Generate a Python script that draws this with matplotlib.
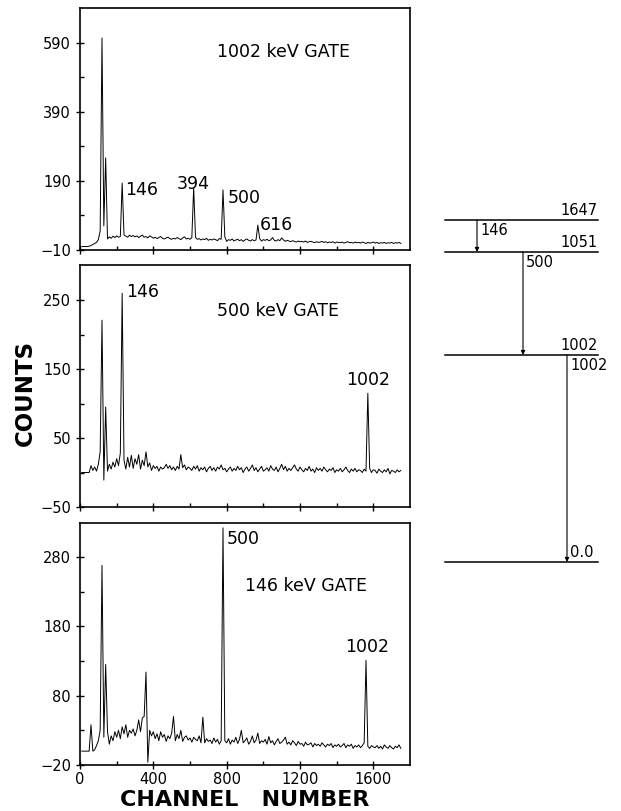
# -*- coding: utf-8 -*-

import numpy as np
import matplotlib.pyplot as plt

# channel grid of the spectra (every 10th channel)
channels = np.arange(10, 1760, 10)

# 1002 keV gate
counts_1002 = [
    0, 0, 0, 0, 1, 3, 6, 9, 12, 20,
    45, 604, 60, 257, 22, 28, 24, 30, 26, 31,
    27, 29, 184, 34, 30, 27, 33, 29, 32, 28,
    31, 26, 30, 33, 27, 29, 25, 31, 28, 24,
    27, 23, 26, 29, 24, 22, 25, 27, 23, 21,
    24, 22, 26, 23, 20, 25, 28, 22, 24, 21,
    26, 170, 27, 21, 23, 19, 22, 20, 24, 18,
    21, 19, 22, 20, 17, 23, 21, 164, 28, 15,
    20, 18, 22, 16, 19, 21, 17, 20, 15, 19,
    22, 18, 16, 20, 17, 19, 62, 23, 16, 20,
    18, 21, 17, 19, 26, 18, 16, 20, 17, 25,
    19, 15, 18, 16, 14, 17, 15, 13, 16, 14,
    15, 13, 16, 12, 14, 15, 13, 11, 14, 12,
    13, 15, 12, 14, 11, 13, 12, 14, 10, 13,
    12, 11, 13, 10, 12, 14, 11, 12, 10, 13,
    11, 12, 10, 13, 11, 9, 12, 10, 11, 13,
    10, 12, 9, 11, 10, 12, 9, 11, 10, 12,
    9, 11, 10, 12, 9,
]

# 500 keV gate
counts_500 = [
    0, 0, 0, 0, 0, 10, 3, 8, 2, 12,
    30, 221, -11, 95, 2, 12, 5, 15, 8, 20,
    10, 28, 260, 18, 5, 22, 8, 25, 6, 20,
    12, 26, 5, 18, 10, 30, 8, 14, 3, 10,
    6, 9, 2, 8, 5, 7, 12, 6, 10, 4,
    8, 3, 9, 5, 26, 7, 11, 4, 8, 6,
    3, 9, 5, 10, 2, 7, 4, 8, 1, 6,
    9, 3, 7, 2, 8, 5, 11, 4, 6, 1,
    5, 8, 2, 6, 3, 9, 4, 7, 0, 5,
    8, 2, 6, 11, 3, 7, 1, 5, 9, 2,
    4, 7, 2, 10, 5, 3, 8, 1, 6, 12,
    4, 9, 2, 6, 3, 7, 11, 5, 2, 8,
    4, 1, 6, 3, 9, 2, 5, 0, 7, 3,
    6, 2, 8, 4, 1, 5, 3, 7, 0, 4,
    2, 6, 1, 4, 8, 3, 0, 5, 2, 6,
    1, 4, 3, 0, 5, 2, 115, 6, 0, 4,
    3, -1, 5, 2, 0, 4, 1, 6, -2, 3,
    2, 0, 4, 1, 3,
]

# 146 keV gate
counts_146 = [
    0, 0, 0, 0, 0, 38, 0, 2, 8, 15,
    30, 268, 20, 125, 28, 10, 22, 15, 28, 20,
    30, 18, 35, 25, 38, 20, 30, 26, 32, 22,
    30, 45, 28, 48, 50, 114, -16, 30, 22, 28,
    18, 25, 15, 28, 20, 24, 14, 22, 18, 26,
    50, 15, 24, 18, 30, 14, 20, 22, 16, 19,
    13, 20, 17, 15, 22, 12, 49, 12, 18, 14,
    16, 11, 19, 13, 17, 10, 15, 322, 15, 12,
    18, 10, 16, 13, 20, 11, 17, 30, 12, 15,
    19, 10, 14, 22, 12, 16, 26, 11, 15, 13,
    17, 10, 21, 12, 15, 9, 14, 18, 11, 13,
    16, 20, 10, 13, 9, 15, 12, 8, 14, 10,
    11, 7, 13, 9, 10, 12, 6, 11, 8, 10,
    7, 12, 9, 6, 10, 8, 11, 5, 9, 7,
    10, 6, 8, 11, 5, 9, 7, 10, 4, 8,
    6, 9, 5, 8, 12, 131, 7, 4, 8, 6,
    5, 8, 4, 7, 3, 9, 6, 4, 8, 5,
    3, 7, 5, 9, 4,
]

gate_labels = ['1002 keV GATE', '500 keV GATE', '146 keV GATE']
y_major = [[-10, 190, 390, 590], [-50, 50, 150, 250], [-20, 80, 180, 280]]
y_limits = [(-10, 691), (-50, 301), (-20, 329)]
gate_text_pos = [(745, 564), (745, 235), (900, 238)]

# peak labels: (text, channel, counts, alignment)
peak_labels = [
    [('146', 245, 164, 'left'), ('394', 617, 182, 'center'),
     ('500', 805, 141, 'left'), ('616', 980, 62, 'left')],
    [('146', 250, 262, 'left'), ('1002', 1570, 134, 'center')],
    [('500', 800, 306, 'left'), ('1002', 1565, 150, 'center')],
]

# level scheme
level_energies = ['1647', '1051', '1002', '0.0']
level_draw_y = [360, 328, 225, 18]
transitions = ['146', '500', '1002']
transition_x = [37, 83, 127]


def draw_spectrum(ax, counts, idx):
    ax.plot(channels, counts, color='black', lw=0.7)
    ax.set_xlim(0, 1800)
    ax.set_ylim(*y_limits[idx])
    ax.set_xticks(np.arange(0, 1800, 400))
    ax.set_xticks(np.arange(200, 1800, 400), minor=True)
    ax.set_yticks(y_major[idx])
    step = y_major[idx][1] - y_major[idx][0]
    ax.set_yticks(np.array(y_major[idx][:-1]) + step / 2, minor=True)
    ax.tick_params(which='major', direction='inout', length=6, width=1,
                   labelsize=10.5)
    ax.tick_params(which='minor', direction='in', length=3, width=1)
    ax.tick_params(axis='x', pad=2)
    for s in ax.spines.values():
        s.set_linewidth(1.2)
    if idx < 2:
        ax.set_xticklabels([])
    gx, gy = gate_text_pos[idx]
    ax.text(gx, gy, gate_labels[idx], fontsize=12.5, va='center')
    for txt, x, y, ha in peak_labels[idx]:
        ax.text(x, y, txt, fontsize=12.5, ha=ha, va='center')


def draw_levels(ax):
    ax.set_xlim(0, 180)
    ax.set_ylim(0, 380)
    ax.axis('off')
    for e, y in zip(level_energies, level_draw_y):
        ax.plot([5, 158], [y, y], color='black', lw=1.1)
        if e == '0.0':
            ax.text(transition_x[2] + 3, y + 2, e, fontsize=10.5, va='bottom')
        else:
            ax.text(158, y + 2, e, fontsize=10.5, ha='right', va='bottom')
    starts = [level_draw_y[0], level_draw_y[1], level_draw_y[2]]
    ends = [level_draw_y[1], level_draw_y[2], level_draw_y[3]]
    for t, x, y0, y1 in zip(transitions, transition_x, starts, ends):
        ax.annotate('', xy=(x, y1), xytext=(x, y0),
                    arrowprops=dict(arrowstyle='-|>', lw=0.8, color='black',
                                    mutation_scale=6, shrinkA=0, shrinkB=0))
        ax.text(x + 3, y0 - 3, t, fontsize=10.5, va='top')


def main():
    fig = plt.figure(figsize=(6.21, 8.11), dpi=100)
    left, width, height = 80 / 621, 330 / 621, 242 / 811
    bottoms = [1 - 250 / 811, 1 - 507 / 811, 1 - 765 / 811]
    data = [counts_1002, counts_500, counts_146]
    for i in range(3):
        ax = fig.add_axes([left, bottoms[i], width, height])
        draw_spectrum(ax, data[i], i)

    fig.text(25 / 621, 1 - 393 / 811, 'COUNTS', rotation=90, fontsize=16.5,
             fontweight='bold', ha='center', va='center')
    fig.text(245 / 621, 1 - 800 / 811, 'CHANNEL   NUMBER', fontsize=16,
             fontweight='bold', ha='center', va='center')

    lax = fig.add_axes([440 / 621, 1 - 580 / 811, 180 / 621, 380 / 811])
    draw_levels(lax)

    fig.savefig('out.png', dpi=100)


if __name__ == '__main__':
    main()
